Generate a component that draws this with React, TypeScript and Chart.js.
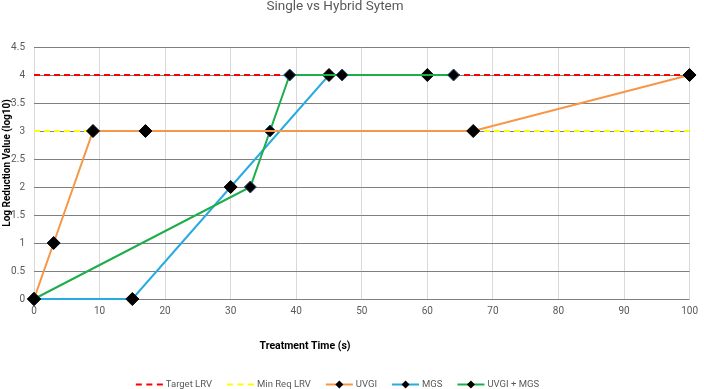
import React, { useEffect, useRef } from 'react';
import { Chart, registerables } from 'chart.js';

Chart.register(...registerables);

const TITLE = 'Single vs Hybrid Sytem';
const X_TITLE = 'Treatment Time (s)';
const Y_TITLE = 'Log Reduction Value (log10)';

const targetX = [0, 100];
const targetY = [4, 4];
const minReqX = [0, 100];
const minReqY = [3, 3];
const uvgiX = [0, 3, 9, 17, 67, 100];
const uvgiY = [0, 1, 3, 3, 3, 4];
const mgsX = [0, 15, 30, 45, 60];
const mgsY = [0, 0, 2, 4, 4];
const hybridX = [0, 33, 36, 39, 47, 64];
const hybridY = [0, 2, 3, 4, 4, 4];

const FONT = "'Roboto', 'Noto Sans', sans-serif";

const pts = (xs: number[], ys: number[]) => xs.map((x, i) => ({ x, y: ys[i] }));

const overlay = {
  id: 'overlay',
  afterDraw(chart: any) {
    const ctx = chart.ctx as CanvasRenderingContext2D;
    ctx.save();
    ctx.textBaseline = 'middle';
    ctx.textAlign = 'center';
    // title
    ctx.fillStyle = '#595959';
    ctx.font = `13.5px ${FONT}`;
    ctx.fillText(TITLE, 335, 7);
    // x title
    ctx.fillStyle = '#000000';
    ctx.font = `bold 10.5px ${FONT}`;
    ctx.fillText(X_TITLE, 305, 346);
    // y title
    ctx.save();
    ctx.translate(7, 163);
    ctx.rotate(-Math.PI / 2);
    ctx.font = `bold 10px ${FONT}`;
    ctx.fillText(Y_TITLE, 0, 0);
    ctx.restore();
    // legend
    ctx.font = `9.5px ${FONT}`;
    ctx.textAlign = 'left';
    const sample = 27;
    const gapText = 3;
    const gapItem = 15;
    const items = chart.data.datasets.map((d: any) => ({
      d,
      w: sample + gapText + ctx.measureText(d.label).width,
    }));
    const total = items.reduce((a: number, it: any) => a + it.w, 0) + gapItem * (items.length - 1);
    let x = 337.5 - total / 2;
    const y = 384.5;
    for (const it of items) {
      const d = it.d;
      ctx.save();
      ctx.strokeStyle = d.borderColor;
      ctx.lineWidth = 2;
      ctx.setLineDash(d.borderDash && d.borderDash.length ? [6, 4.5] : []);
      ctx.beginPath();
      ctx.moveTo(x, y);
      ctx.lineTo(x + sample, y);
      ctx.stroke();
      ctx.restore();
      if (d.pointRadius > 0) {
        const r = 4;
        const cx = x + sample / 2;
        ctx.fillStyle = '#000000';
        ctx.beginPath();
        ctx.moveTo(cx, y - r);
        ctx.lineTo(cx + r, y);
        ctx.lineTo(cx, y + r);
        ctx.lineTo(cx - r, y);
        ctx.closePath();
        ctx.fill();
      }
      ctx.fillStyle = '#595959';
      ctx.fillText(d.label, x + sample + gapText, y);
      x += it.w + gapItem;
    }
    ctx.restore();
  },
};

export default function App() {
  const ref = useRef<HTMLCanvasElement | null>(null);

  useEffect(() => {
    if (!ref.current) return;
    const lineDs = (label: string, xs: number[], ys: number[], color: string, extra: any) => ({
      label,
      data: pts(xs, ys),
      borderColor: color,
      backgroundColor: '#000000',
      borderWidth: 2,
      tension: 0,
      clip: false,
      ...extra,
    });
    const chart = new Chart(ref.current, {
      type: 'line',
      data: {
        datasets: [
          lineDs('Target LRV', targetX, targetY, '#ff0000', { borderDash: [6, 4], pointRadius: 0, order: 5 }),
          lineDs('Min Req LRV', minReqX, minReqY, '#ffff00', { borderDash: [6, 4], pointRadius: 0, order: 4 }),
          lineDs('UVGI', uvgiX, uvgiY, '#f79646', {
            pointStyle: 'rectRot', pointRadius: 6.5, pointBorderColor: '#000000', pointBorderWidth: 1, order: 1,
          }),
          lineDs('MGS', mgsX, mgsY, '#29abe2', {
            pointStyle: 'rectRot', pointRadius: 6.5, pointBorderColor: '#000000', pointBorderWidth: 1, order: 3,
          }),
          lineDs('UVGI + MGS', hybridX, hybridY, '#1cae4a', {
            pointStyle: 'rectRot', pointRadius: 6, pointBorderColor: '#1f4e79', pointBorderWidth: 1, order: 2,
          }),
        ],
      },
      options: {
        responsive: false,
        animation: false,
        devicePixelRatio: 1,
        layout: { padding: { top: 47, right: 7, left: 0, bottom: 0 } },
        plugins: {
          legend: { display: false },
          title: { display: false },
          tooltip: { enabled: false },
        },
        scales: {
          x: {
            type: 'linear',
            min: 0,
            max: 100,
            ticks: { stepSize: 10, color: '#595959', font: { size: 10, family: FONT }, padding: 6, maxRotation: 0 },
            grid: { color: '#d9d9d9', drawTicks: false },
            border: { display: false },
            afterFit: (s: any) => { s.height = 90; },
          },
          y: {
            min: 0,
            max: 4.5,
            ticks: {
              stepSize: 0.5,
              color: '#595959',
              font: { size: 10, family: FONT },
              padding: 9,
              callback: (v: any) => String(Math.round(Number(v) * 10) / 10),
            },
            grid: { color: '#7f7f7f', drawTicks: false },
            border: { display: false },
            afterFit: (s: any) => { s.width = 34; },
          },
        },
      } as any,
      plugins: [overlay],
    });
    return () => chart.destroy();
  }, []);

  return (
    <div style={{ position: 'absolute', left: 0, top: 0, width: 704, height: 389, background: '#ffffff' }}>
      <canvas ref={ref} width={704} height={389} style={{ display: 'block' }} />
    </div>
  );
}
